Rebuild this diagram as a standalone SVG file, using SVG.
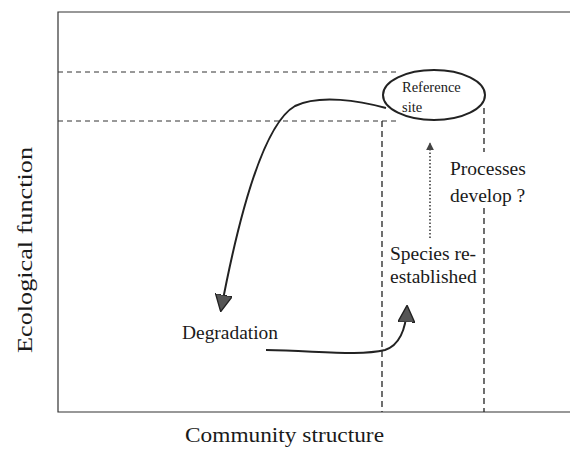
<svg xmlns="http://www.w3.org/2000/svg" width="570" height="450" viewBox="0 0 570 450">
<defs>
<style>
text{font-family:"Liberation Serif","DejaVu Serif",serif;fill:#1a1a1a}
.axis{stroke:#333;stroke-width:1.2;fill:none}
.dash{stroke:#333;stroke-width:1;stroke-dasharray:5,4;fill:none}
.vdash{stroke:#222;stroke-width:1.3;stroke-dasharray:6,4;fill:none}
.curve{stroke:#222;stroke-width:2;fill:none}
.dot{stroke:#333;stroke-width:1.5;stroke-dasharray:1.5,2;fill:none}
</style>
<marker id="tri" viewBox="0 0 10 10" refX="9" refY="5" markerWidth="8" markerHeight="8" markerUnits="userSpaceOnUse" orient="auto">
<path d="M0,0 L10,5 L0,10 z" fill="#444"/>
</marker>
<marker id="big" viewBox="0 0 10 10" refX="9" refY="5" markerWidth="17" markerHeight="17" markerUnits="userSpaceOnUse" orient="auto">
<path d="M0,0 L10,5 L0,10 z" fill="#555" stroke="#222" stroke-width="0.8"/>
</marker>
</defs>
<rect width="570" height="450" fill="#fff"/>
<g id="frame">
<path class="axis" d="M570,12 H58 V412 H570"/>
</g>
<g id="guides">
<path class="dash" d="M58,72 H398"/>
<path class="dash" d="M58,121 H400"/>
<path class="vdash" d="M382,121 V412"/>
<path class="vdash" d="M484,108 V152"/>
<path class="vdash" d="M484,208 V412"/>
</g>
<g id="connectors">
<path class="curve" d="M386,108 C360,101 320,94 295,106 C262,125 238,220 221,310" marker-end="url(#big)"/>
<path class="curve" d="M266,350 C320,351 360,356 385,350 C400,345 406,330 407,307" marker-end="url(#big)"/>
<path class="dot" d="M430,238 V143" marker-end="url(#tri)"/>
</g>
<g id="reference-site">
<ellipse cx="434" cy="95" rx="51" ry="25" fill="none" stroke="#222" stroke-width="2"/>
<text x="402" y="92" font-size="14.5">Reference</text>
<text x="402" y="112" font-size="14.5">site</text>
</g>
<g id="processes">
<text x="450" y="175" font-size="19.5">Processes</text>
<text x="450" y="202" font-size="19.5">develop ?</text>
</g>
<g id="species">
<text x="390" y="260" font-size="19.5">Species re-</text>
<text x="390" y="283" font-size="19.5">established</text>
</g>
<g id="degradation">
<text x="182" y="339" font-size="19.5" textLength="96" lengthAdjust="spacingAndGlyphs">Degradation</text>
</g>
<g id="labels">
<text x="185" y="442" font-size="21" textLength="199" lengthAdjust="spacingAndGlyphs">Community structure</text>
<text transform="translate(32,353) rotate(-90)" font-size="20" textLength="206" lengthAdjust="spacingAndGlyphs">Ecological function</text>
</g>
</svg>
